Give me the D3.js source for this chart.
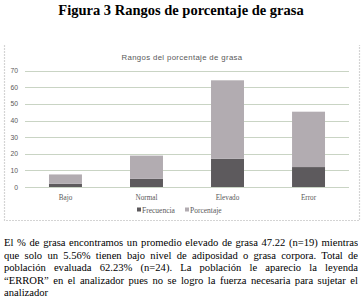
<!DOCTYPE html>
<html><head><meta charset="utf-8">
<script src="https://cdn.jsdelivr.net/npm/d3@7"></script>
<style>
body{margin:0;background:#fff;width:362px;height:300px;overflow:hidden;position:relative;}
#title{position:absolute;left:0;top:2px;width:362px;text-align:center;font-family:"Liberation Serif","Times New Roman",serif;font-weight:bold;font-size:14.5px;color:#000;}
#para{position:absolute;left:4px;top:237px;width:354px;font-family:"Liberation Serif","Times New Roman",serif;font-size:10.6px;line-height:12.6px;color:#000;}
#para div{text-align:justify;text-align-last:justify;white-space:nowrap;overflow:hidden;}
#para div.last{text-align-last:left;}
svg{position:absolute;left:0;top:0;}
</style></head>
<body>
<div id="title">Figura 3 Rangos de porcentaje de grasa</div>
<svg id="chart" width="362" height="230"></svg>
<div id="para"></div>
<script>
const categories = ["Bajo", "Normal", "Elevado", "Error"];
const frecuencia = [2, 5, 17, 12];
const porcentaje = [5.56, 13.89, 47.22, 33.33];
const seriesNames = ["Frecuencia", "Porcentaje"];
const yTicks = [0, 10, 20, 30, 40, 50, 60, 70];
const chartTitle = "Rangos del porcentaje de grasa";
const paraLines = [
 "El % de grasa encontramos un promedio elevado de grasa 47.22 (n=19) mientras",
 "que solo un 5.56% tienen bajo nivel de adiposidad o grasa corpora. Total de",
 "población evaluada 62.23% (n=24). La población le aparecio la leyenda",
 "“ERROR” en el analizador pues no se logro la fuerza necesaria para sujetar el",
 "analizador"
];
const colors = ["#5d5a5d", "#b2acb1"];

const svg = d3.select("#chart");
svg.append("path").attr("d","M4.5,45 V220.5 H359.5 V45")
  .attr("fill","none").attr("stroke","#d4d4d4").attr("stroke-width",1.2).attr("stroke-dasharray","2,1");

const x = d3.scaleBand().domain(categories).range([25,349]).paddingInner(0.593).paddingOuter(0.296);
const y = d3.scaleLinear().domain([0,70]).range([187,70.7]);

svg.append("text").attr("x",182).attr("y",60).attr("text-anchor","middle")
  .attr("font-family","Liberation Sans, sans-serif").attr("font-size",7.8).attr("letter-spacing",0.35)
  .attr("fill","#595959").text(chartTitle);

const grid = svg.append("g");
grid.selectAll("line").data(yTicks).join("line")
  .attr("x1",25).attr("x2",349).attr("y1",d=>Math.round(y(d))+0.5).attr("y2",d=>Math.round(y(d))+0.5)
  .attr("stroke","#c9d4c4").attr("stroke-width",1);
grid.selectAll("text").data(yTicks).join("text")
  .attr("x",18).attr("y",d=>y(d)+2.5).attr("text-anchor","end")
  .attr("font-family","Liberation Sans, sans-serif").attr("font-size",6.8).attr("fill","#595959")
  .text(d=>d);

const stackData = categories.map((c,i)=>({cat:c, Frecuencia:frecuencia[i], Porcentaje:porcentaje[i]}));
const stacked = d3.stack().keys(seriesNames)(stackData);
svg.append("g").selectAll("g").data(stacked).join("g").attr("fill",(d,i)=>colors[i])
  .selectAll("rect").data(d=>d).join("rect")
  .attr("x",d=>x(d.data.cat)).attr("width",x.bandwidth())
  .attr("y",d=>y(d[1])).attr("height",d=>y(d[0])-y(d[1]));

svg.append("g").selectAll("text").data(categories).join("text")
  .attr("x",d=>x(d)+x.bandwidth()/2).attr("y",199.5).attr("text-anchor","middle")
  .attr("font-family","Liberation Serif, serif").attr("font-size",7.2).attr("fill","#595959")
  .text(d=>d);

const leg = svg.append("g");
const legX = [137, 185];
seriesNames.forEach((s,i)=>{
  leg.append("rect").attr("x",legX[i]).attr("y",207.5).attr("width",4).attr("height",4).attr("fill",colors[i]);
  leg.append("text").attr("x",legX[i]+5).attr("y",212.5)
    .attr("font-family","Liberation Serif, serif").attr("font-size",7.5).attr("fill","#595959").text(s);
});

d3.select("#para").selectAll("div").data(paraLines).join("div")
  .attr("class",(d,i)=>i===paraLines.length-1?"last":null).text(d=>d);
</script>
</body></html>
